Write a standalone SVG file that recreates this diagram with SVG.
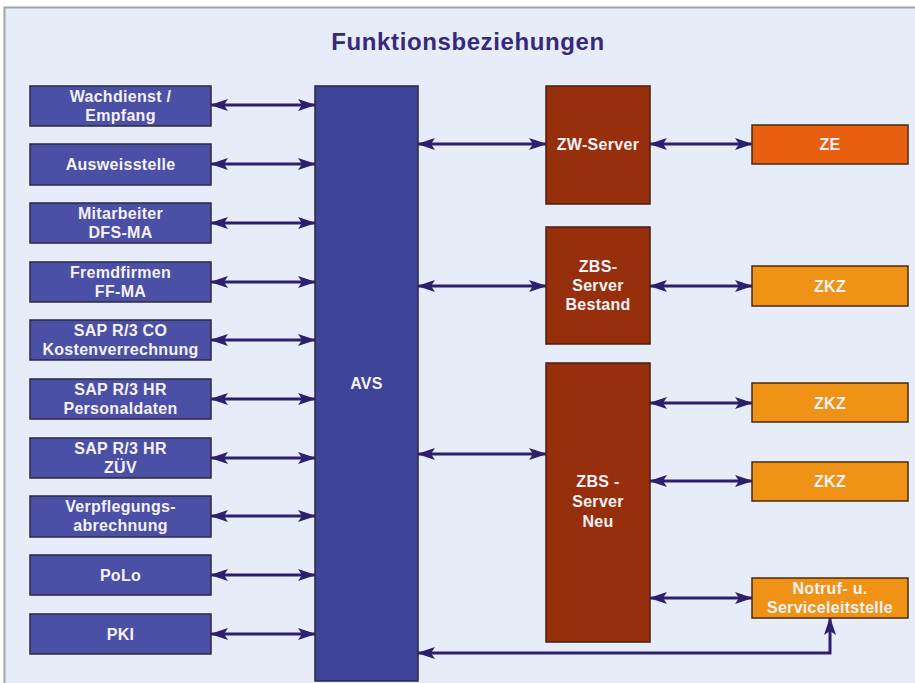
<svg xmlns="http://www.w3.org/2000/svg" width="915" height="683" viewBox="0 0 915 683">
<defs>
<marker id="ah" viewBox="0 0 18 12" refX="17" refY="6" markerWidth="18" markerHeight="12" markerUnits="userSpaceOnUse" orient="auto-start-reverse">
<path d="M0,0 L18,6 L0,12 L4,6 Z" fill="#2e1f6e"/>
</marker>
<style>
.bg{fill:#e6edf8}
.frame{fill:none;stroke:#a3a3a8;stroke-width:2}
.title{font-family:"Liberation Sans",Arial,sans-serif;font-weight:bold;font-size:24px;fill:#36287a;letter-spacing:0.6px}
.blue{fill:#4b4fa6;stroke:#2a2840;stroke-width:1.5}
.avs{fill:#3e4498;stroke:#2a2840;stroke-width:1.5}
.srv{fill:#982f0c;stroke:#4a1e10;stroke-width:1.5}
.ze{fill:#e8600f;stroke:#4a2a10;stroke-width:1.5}
.zkz{fill:#f09216;stroke:#4a2a10;stroke-width:1.5}
.t{font-family:"Liberation Sans",Arial,sans-serif;font-weight:bold;font-size:16px;fill:#f4f2f6;text-anchor:middle;letter-spacing:0.3px}
.c{fill:none;stroke:#2e1f6e;stroke-width:3}
.arr{marker-start:url(#ah);marker-end:url(#ah)}
</style>
</defs>
<rect width="915" height="683" fill="#ffffff"/>
<rect x="4" y="7" width="915" height="680" class="bg"/>
<path d="M4.5,683 V7.5 H915" class="frame"/>
<text x="468" y="50" class="title" text-anchor="middle">Funktionsbeziehungen</text>

<g id="connectors">
<path class="c arr" d="M211,105 H315"/>
<path class="c arr" d="M211,164 H315"/>
<path class="c arr" d="M211,223 H315"/>
<path class="c arr" d="M211,282 H315"/>
<path class="c arr" d="M211,340 H315"/>
<path class="c arr" d="M211,399 H315"/>
<path class="c arr" d="M211,458 H315"/>
<path class="c arr" d="M211,516 H315"/>
<path class="c arr" d="M211,575 H315"/>
<path class="c arr" d="M211,634 H315"/>
<path class="c arr" d="M418,144 H546"/>
<path class="c arr" d="M418,286 H546"/>
<path class="c arr" d="M418,454 H546"/>
<path class="c arr" d="M650,144 H752"/>
<path class="c arr" d="M650,286 H752"/>
<path class="c arr" d="M650,403 H752"/>
<path class="c arr" d="M650,481 H752"/>
<path class="c arr" d="M650,598 H752"/>
<path class="c arr" d="M418,653 H830 V618"/>
</g>

<g id="wachdienst"><rect x="30" y="86" width="181" height="40" class="blue"/><text class="t" x="120.5" y="102">Wachdienst /</text><text class="t" x="120.5" y="121">Empfang</text></g>
<g id="ausweisstelle"><rect x="30" y="144" width="181" height="41" class="blue"/><text class="t" x="120.5" y="170">Ausweisstelle</text></g>
<g id="mitarbeiter"><rect x="30" y="203" width="181" height="40" class="blue"/><text class="t" x="120.5" y="219">Mitarbeiter</text><text class="t" x="120.5" y="238">DFS-MA</text></g>
<g id="fremdfirmen"><rect x="30" y="262" width="181" height="40" class="blue"/><text class="t" x="120.5" y="278">Fremdfirmen</text><text class="t" x="120.5" y="297">FF-MA</text></g>
<g id="sapco"><rect x="30" y="320" width="181" height="40" class="blue"/><text class="t" x="120.5" y="336">SAP R/3 CO</text><text class="t" x="120.5" y="355">Kostenverrechnung</text></g>
<g id="saphr"><rect x="30" y="379" width="181" height="40" class="blue"/><text class="t" x="120.5" y="395">SAP R/3 HR</text><text class="t" x="120.5" y="414">Personaldaten</text></g>
<g id="zuev"><rect x="30" y="438" width="181" height="40" class="blue"/><text class="t" x="120.5" y="454">SAP R/3 HR</text><text class="t" x="120.5" y="473">ZÜV</text></g>
<g id="verpflegung"><rect x="30" y="496" width="181" height="41" class="blue"/><text class="t" x="120.5" y="512">Verpflegungs-</text><text class="t" x="120.5" y="531">abrechnung</text></g>
<g id="polo"><rect x="30" y="555" width="181" height="40" class="blue"/><text class="t" x="120.5" y="581">PoLo</text></g>
<g id="pki"><rect x="30" y="614" width="181" height="40" class="blue"/><text class="t" x="120.5" y="640">PKI</text></g>

<g id="avs"><rect x="315" y="86" width="103" height="595" class="avs"/><text class="t" x="366.5" y="389">AVS</text></g>

<g id="zwserver"><rect x="546" y="86" width="104" height="118" class="srv"/><text class="t" x="598" y="150">ZW-Server</text></g>
<g id="zbsbestand"><rect x="546" y="227" width="104" height="117" class="srv"/><text class="t" x="598" y="272">ZBS-</text><text class="t" x="598" y="291">Server</text><text class="t" x="598" y="310">Bestand</text></g>
<g id="zbsneu"><rect x="546" y="363" width="104" height="279" class="srv"/><text class="t" x="598" y="487">ZBS -</text><text class="t" x="598" y="507">Server</text><text class="t" x="598" y="527">Neu</text></g>

<g id="ze"><rect x="752" y="125" width="156" height="39" class="ze"/><text class="t" x="830" y="150">ZE</text></g>
<g id="zkz1"><rect x="752" y="266" width="156" height="40" class="zkz"/><text class="t" x="830" y="292">ZKZ</text></g>
<g id="zkz2"><rect x="752" y="383" width="156" height="39" class="zkz"/><text class="t" x="830" y="409">ZKZ</text></g>
<g id="zkz3"><rect x="752" y="462" width="156" height="39" class="zkz"/><text class="t" x="830" y="487">ZKZ</text></g>
<g id="notruf"><rect x="752" y="578" width="156" height="40" class="zkz"/><text class="t" x="830" y="594">Notruf- u.</text><text class="t" x="830" y="613">Serviceleitstelle</text></g>
</svg>
